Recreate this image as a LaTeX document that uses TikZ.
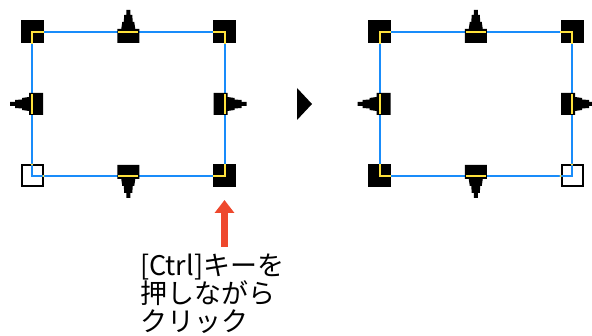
\documentclass[tikz,border=0pt]{standalone}
\usepackage{fontspec}
\newfontfamily\jpfont{Noto Sans CJK JP}
\usetikzlibrary{arrows.meta,calc}
\definecolor{frameblue}{RGB}{25,140,250}
\definecolor{gripyellow}{RGB}{255,225,60}
\definecolor{hintred}{RGB}{238,72,45}

\begin{document}
\begin{tikzpicture}[
  x=1pt, y=-1pt,
  frame/.style={draw=frameblue, line width=2pt},
  cornergrip/.style={rectangle, fill=black, minimum size=23pt, inner sep=0pt},
  opengrip/.style={rectangle, draw=black, fill=white, line width=2pt, minimum size=21pt, inner sep=0pt},
  gripline/.style={draw=gripyellow, line width=2pt},
  hint/.style={hintred, line width=7pt, -{Triangle[width=19pt, length=13pt]}},
  midgrip/.pic={
    \fill[black] (-11,11) -- (11,11) -- (11,-3) -- (7,-3) -- (6,-10) -- (4.5,-10)
      -- (4,-17) -- (2,-17) -- (2,-22) -- (-2,-22) -- (-2,-17) -- (-4,-17)
      -- (-4.5,-10) -- (-6,-10) -- (-7,-3) -- (-11,-3) -- cycle;
    \draw[gripline] (-10,0) -- (10,0);
  }
]
  \useasboundingbox (0,0) rectangle (592,336);

  \coordinate (atl) at (32,32);
  \coordinate (atr) at (224.5,32);
  \coordinate (abl) at (32,176);
  \coordinate (abr) at (224.5,176);
  \coordinate (btl) at (379.5,32);
  \coordinate (btr) at (572,32);
  \coordinate (bbl) at (379.5,176);
  \coordinate (bbr) at (572,176);

  \node[opengrip] (abl-g) at (abl) {};
  \node[opengrip] (bbr-g) at (bbr) {};

  \draw[frame] (atl) rectangle (abr);
  \draw[frame] (btl) rectangle (bbr);

  \node[cornergrip] (atl-g) at (atl) {};
  \node[cornergrip] (atr-g) at (atr) {};
  \node[cornergrip] (abr-g) at (abr) {};
  \node[cornergrip] (btl-g) at (btl) {};
  \node[cornergrip] (btr-g) at (btr) {};
  \node[cornergrip] (bbl-g) at (bbl) {};

  \draw[gripline] (atl-g.east) -- (atl) -- (atl-g.south);
  \draw[gripline] (atr-g.west) -- (atr) -- (atr-g.south);
  \draw[gripline] (abr-g.north) -- (abr) -- (abr-g.west);
  \draw[gripline] (btl-g.east) -- (btl) -- (btl-g.south);
  \draw[gripline] (btr-g.west) -- (btr) -- (btr-g.south);
  \draw[gripline] (bbl-g.north) -- (bbl) -- (bbl-g.east);
  \fill[gripyellow] (abl-g.north) circle (1.2pt) (abl-g.east) circle (1.2pt);
  \fill[gripyellow] (bbr-g.north) circle (1.2pt) (bbr-g.west) circle (1.2pt);

  \pic (at) at ($(atl)!0.5!(atr)$) {midgrip};
  \pic[rotate=90] (al) at ($(atl)!0.5!(abl)$) {midgrip};
  \pic[rotate=180] (ab) at ($(abl)!0.5!(abr)$) {midgrip};
  \pic[rotate=-90] (ar) at ($(atr)!0.5!(abr)$) {midgrip};
  \pic (bt) at ($(btl)!0.5!(btr)$) {midgrip};
  \pic[rotate=90] (bl) at ($(btl)!0.5!(bbl)$) {midgrip};
  \pic[rotate=180] (bb) at ($(bbl)!0.5!(bbr)$) {midgrip};
  \pic[rotate=-90] (br) at ($(btr)!0.5!(bbr)$) {midgrip};

  \fill (297,88) -- (312,104) -- (297,120) -- cycle;

  \node[anchor=base west, align=left, inner sep=0pt,
    font=\jpfont\fontsize{27}{28}\selectfont] (note) at (140,332)
    {[Ctrl]キーを\\押しながら\\クリック};

  \coordinate (tip) at (224.5,200);
  \coordinate (tail) at (224.5,247);
  \draw[hint] (tail) -- (tip);
\end{tikzpicture}
\end{document}
